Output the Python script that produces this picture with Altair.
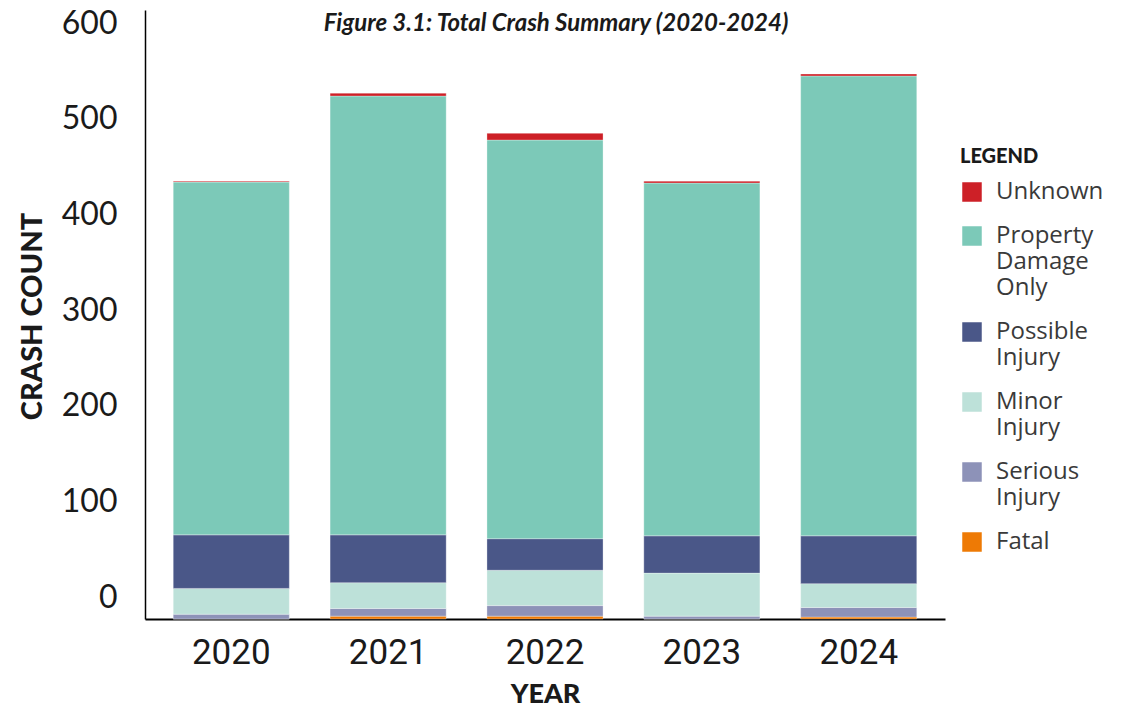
import altair as alt
import pandas as pd

years = ["2020", "2021", "2022", "2023", "2024"]
categories = ["Unknown", "Property Damage Only", "Possible Injury", "Minor Injury", "Serious Injury", "Fatal"]
colors = ["#CD2027", "#7CC9B8", "#4A5788", "#BDE1D9", "#8D92B8", "#EE7A05"]

fatal = [0, 3, 3, 0, 2]
serious = [5, 8, 11, 3, 10]
minor = [27, 27, 37, 45, 25]
possible = [56, 50, 33, 39, 50]
pdo = [369, 459, 417, 369, 481]
unknown = [1, 3, 7, 2, 2]

series = {
    "Fatal": fatal,
    "Serious Injury": serious,
    "Minor Injury": minor,
    "Possible Injury": possible,
    "Property Damage Only": pdo,
    "Unknown": unknown,
}
stack_order = ["Fatal", "Serious Injury", "Minor Injury", "Possible Injury", "Property Damage Only", "Unknown"]

rows = []
for cat in stack_order:
    for y, v in zip(years, series[cat]):
        rows.append({"Year": y, "Severity": cat, "Count": v, "ord": stack_order.index(cat)})
df = pd.DataFrame(rows)

FONT = "Lato"

chart = alt.Chart(df).mark_bar(stroke="white", strokeWidth=0.6, strokeOpacity=0.5).encode(
    x=alt.X("Year:N", sort=years,
            scale=alt.Scale(paddingInner=0.26, paddingOuter=0.18),
            axis=alt.Axis(title="YEAR", labelAngle=0, ticks=False, tickSize=0,
                          labelFont="Roboto", labelFontSize=35, labelColor="#1a1a1a",
                          labelPadding=16, domainColor="#000000", domainWidth=2,
                          titleFont=FONT, titleFontSize=27, titleFontWeight=900, titleColor="#1a1a1a",
                          titlePadding=11)),
    y=alt.Y("Count:Q", stack="zero",
            scale=alt.Scale(domain=[0, 637], nice=False, zero=True),
            axis=alt.Axis(title="CRASH COUNT", values=[0, 100, 200, 300, 400, 500, 600],
                          grid=False, ticks=False, tickSize=0, labelOffset=-22,
                          labelFont=FONT, labelFontSize=32, labelColor="#1a1a1a",
                          labelPadding=28, domainColor="#000000", domainWidth=1.5,
                          titleFont=FONT, titleFontSize=29, titleFontWeight=900, titleColor="#1a1a1a",
                          titleX=-113, titleY=306, titleBaseline="middle", titleAngle=-90)),
    color=alt.Color("Severity:N",
                    scale=alt.Scale(domain=categories, range=colors),
                    legend=alt.Legend(title="LEGEND", orient="none", legendX=815, legendY=137,
                                      titleFont=FONT, titleFontSize=20, titleFontWeight=900,
                                      titleColor="#1a1a1a", titlePadding=13,
                                      symbolType="square", symbolSize=380, symbolStrokeWidth=0,
                                      symbolOpacity=1,
                                      labelFont="Open Sans", labelFontSize=24, labelColor="#3a3a3a",
                                      labelOffset=12, rowPadding=20, labelLimit=200,
                                      labelExpr="split(datum.label, ' ')")),
    order=alt.Order("ord:Q", sort="ascending"),
).properties(
    width=800,
    height=609,
    title=alt.TitleParams(
        text="Figure 3.1: Total Crash Summary (2020-2024)",
        font=FONT, fontSize=24, fontStyle="italic", fontWeight="bold", color="#1a1a1a",
        anchor="middle", dx=11, dy=33,
    ),
    autosize=alt.AutoSizeParams(type="none"),
    padding={"left": 145, "top": 10, "right": 184, "bottom": 91},
).configure_view(stroke=None)

chart.save("out.html", embed_options={"renderer": "svg", "actions": False})
